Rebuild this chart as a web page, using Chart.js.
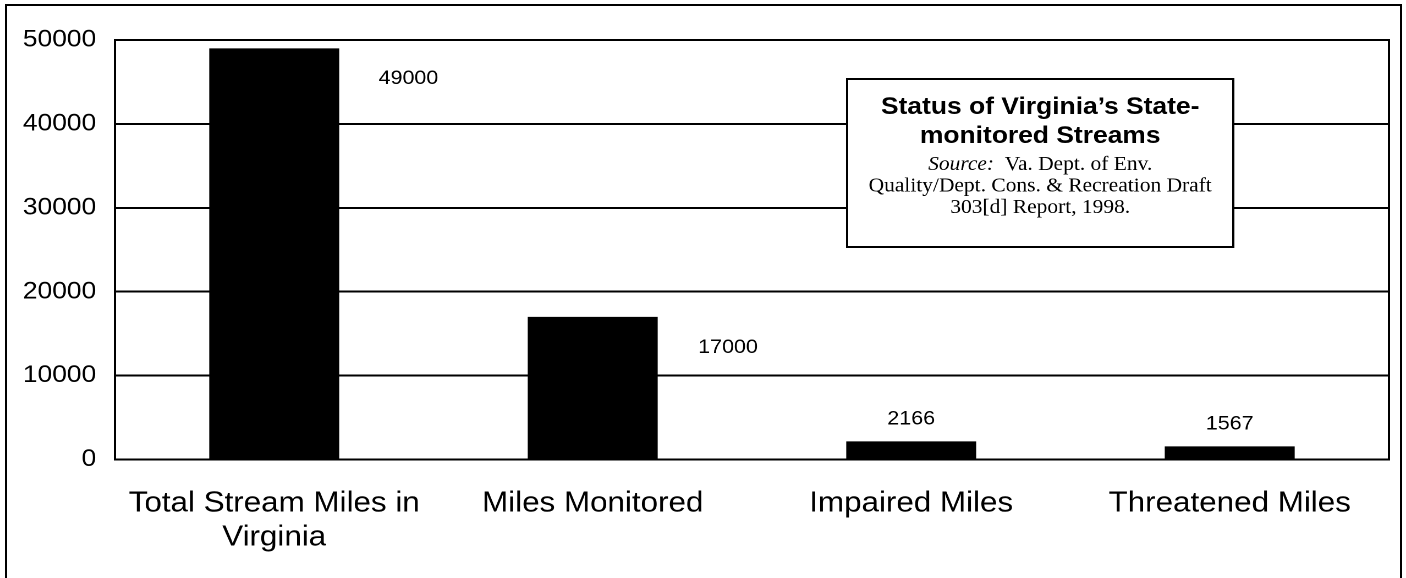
<!DOCTYPE html>
<html>
<head>
<meta charset="utf-8">
<title>Status of Virginia's State-monitored Streams</title>
<script src="https://cdn.jsdelivr.net/npm/chart.js@4/dist/chart.umd.min.js"></script>
<style>
  html, body { margin: 0; padding: 0; background: #fff; overflow: hidden; }
  /* the chart is laid out 1278px wide and widened to the full 1406px page */
  #wrap { position: absolute; left: 0; top: 0; width: 1278px; height: 578px;
          transform: scaleX(1.10016); transform-origin: 0 0; }
</style>
</head>
<body>
<div id="wrap"><canvas id="c"></canvas></div>
<script>
// ---- data ----
const categories = [['Total Stream Miles in', 'Virginia'], 'Miles Monitored', 'Impaired Miles', 'Threatened Miles'];
const streamMiles = [49000, 17000, 2166, 1567];
const yTickValues = [0, 10000, 20000, 30000, 40000, 50000];

// ---- caption text ----
const titleLines = ['Status of Virginia\u2019s State-', 'monitored Streams'];
const sourceLabel = 'Source:';
const sourceLines = ['  Va. Dept. of Env.', 'Quality/Dept. Cons. & Recreation Draft', '303[d] Report, 1998.'];

// ---- styling / placement ----
const SANS = "'Liberation Sans', Arial, Helvetica, sans-serif";
const SERIF = "'Liberation Serif', 'Times New Roman', serif";
const valueLabelShift = [{ dx: 122, dy: 30 }, { dx: 123, dy: 31 }, { dx: 0, dy: -22 }, { dx: 0, dy: -22 }];
const captionBox = { left: 770, top: 79, right: 1121, bottom: 247 };

// outer frame of the whole chart
const outerFrame = {
  id: 'outerFrame',
  beforeDraw(chart) {
    const ctx = chart.ctx;
    ctx.save();
    ctx.fillStyle = '#fff';
    ctx.fillRect(0, 0, chart.width, chart.height);
    ctx.strokeStyle = '#000';
    ctx.lineWidth = 2;
    ctx.strokeRect(5.5, 5, 1268, 600);
    ctx.restore();
  }
};

// plot border, value labels and caption box
const overlays = {
  id: 'overlays',
  afterDatasetsDraw(chart) {
    const ctx = chart.ctx;
    const a = chart.chartArea;
    ctx.save();
    ctx.strokeStyle = '#000';
    ctx.lineWidth = 2;
    ctx.strokeRect(a.left, a.top, a.right - a.left, a.bottom - a.top);

    // value labels
    const meta = chart.getDatasetMeta(0);
    ctx.fillStyle = '#000';
    ctx.font = '19.5px ' + SANS;
    ctx.textAlign = 'center';
    ctx.textBaseline = 'middle';
    meta.data.forEach((bar, i) => {
      const s = valueLabelShift[i];
      ctx.fillText(String(streamMiles[i]), bar.x + s.dx, bar.y + s.dy);
    });

    // caption box
    const b = captionBox;
    ctx.fillStyle = '#fff';
    ctx.fillRect(b.left, b.top, b.right - b.left, b.bottom - b.top);
    ctx.strokeRect(b.left, b.top, b.right - b.left, b.bottom - b.top);
    const cx = (b.left + b.right) / 2;
    ctx.fillStyle = '#000';
    ctx.textBaseline = 'alphabetic';
    ctx.textAlign = 'center';
    ctx.font = 'bold 24px ' + SANS;
    ctx.fillText(titleLines[0], cx, 114);
    ctx.fillText(titleLines[1], cx, 143);

    // first source line mixes italic and roman
    const serifFont = '19.5px ' + SERIF;
    const italicFont = 'italic 19.5px ' + SERIF;
    ctx.textAlign = 'left';
    ctx.font = italicFont;
    const w1 = ctx.measureText(sourceLabel).width;
    ctx.font = serifFont;
    const w2 = ctx.measureText(sourceLines[0]).width;
    const x0 = cx - (w1 + w2) / 2;
    ctx.font = italicFont;
    ctx.fillText(sourceLabel, x0, 170);
    ctx.font = serifFont;
    ctx.fillText(sourceLines[0], x0 + w1, 170);
    ctx.textAlign = 'center';
    ctx.fillText(sourceLines[1], cx, 191.5);
    ctx.fillText(sourceLines[2], cx, 213);
    ctx.restore();
  }
};

new Chart(document.getElementById('c'), {
  type: 'bar',
  data: {
    labels: categories,
    datasets: [{
      data: streamMiles,
      backgroundColor: '#000',
      borderWidth: 0,
      barPercentage: 0.408,
      categoryPercentage: 1
    }]
  },
  options: {
    responsive: true,
    maintainAspectRatio: false,
    animation: false,
    devicePixelRatio: 2,
    layout: { padding: { left: 0, top: 40, right: 15.5, bottom: 0 } },
    plugins: { legend: { display: false }, tooltip: { enabled: false }, title: { display: false } },
    scales: {
      x: {
        grid: { display: false, drawTicks: false },
        border: { display: false },
        ticks: {
          color: '#000',
          font: { family: SANS, size: 28.5, lineHeight: 1.2 },
          padding: 27,
          maxRotation: 0,
          autoSkip: false
        },
        afterFit(scale) { scale.height = 118.5; }
      },
      y: {
        min: 0,
        max: 50000,
        grid: { color: '#000', lineWidth: 2, drawTicks: false },
        border: { display: false },
        ticks: {
          color: '#000',
          font: { family: SANS, size: 24 },
          padding: 17,
          callback: (v) => String(v)
        },
        afterBuildTicks(scale) { scale.ticks = yTickValues.map(v => ({ value: v })); },
        afterFit(scale) { scale.width = 104.5; }
      }
    }
  },
  plugins: [outerFrame, overlays]
});
</script>
</body>
</html>
